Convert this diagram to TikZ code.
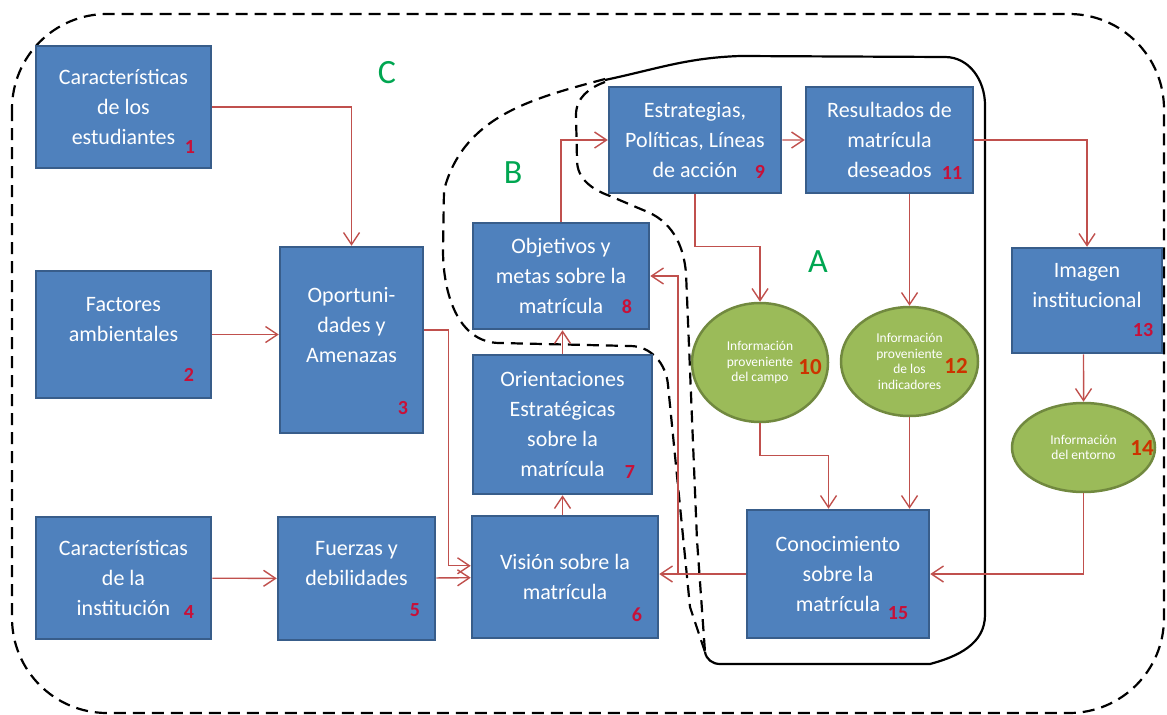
\documentclass[tikz,border=0pt]{standalone}
\usepackage{fontspec}
\setmainfont{Carlito}
\usetikzlibrary{arrows.meta,shapes.geometric}
\definecolor{boxblue}{RGB}{79,129,189}
\definecolor{boxedge}{RGB}{56,93,138}
\definecolor{ovalgreen}{RGB}{155,187,89}
\definecolor{ovaledge}{RGB}{113,137,63}
\definecolor{arrowred}{RGB}{192,80,77}
\definecolor{numred}{RGB}{200,16,56}
\definecolor{numorange}{RGB}{204,51,0}
\definecolor{zonegreen}{RGB}{0,166,81}
\tikzset{
  box/.style={draw=boxedge, line width=2.5pt, fill=boxblue, text=white, align=center, font=\fontsize{22}{30}\selectfont},
  oval/.style={ellipse, draw=ovaledge, line width=2.5pt, fill=ovalgreen, text=white, align=center, font=\fontsize{13.5}{15.5}\selectfont},
  num/.style={text=numred, font=\fontsize{20}{20}\selectfont\bfseries},
  onum/.style={text=numorange, font=\fontsize{23}{23}\selectfont\bfseries},
  zone/.style={text=zonegreen, font=\fontsize{34}{34}\selectfont},
  arr/.style={draw=arrowred, line width=1.4pt, -{Straight Barb[length=12pt,width=16pt]}},
  fence/.style={line width=2.2pt, dash pattern=on 12pt off 7pt}
}
\begin{document}
\begin{tikzpicture}[scale=0.35146]
\tikzstyle{every node}+=[inner sep=0pt]
\useasboundingbox (0,0) rectangle (116.7,-71.5);
\draw [fence, rounded corners=95pt] (1.2,-1.4) rectangle (116.4,-71.3);
\draw [fence] (60.5,-7.9) to[out=195,in=75] (44.4,-19) -- (44.3,-25) to[out=-90,in=180] (50,-34.3) -- (63,-34.6) to[out=0,in=95] (66.8,-38.5) -- (69,-60.7) -- (70.5,-65.2);
\draw [fence] (60.5,-8.2) to[out=200,in=90] (57.6,-11.5) -- (57.7,-16) to[out=-90,in=160] (61,-19.6) -- (64.3,-21) to[out=-20,in=95] (68.6,-27.3) -- (69.7,-54) -- (70.5,-65.2);
\draw [line width=2.2pt] (60.5,-8) to[out=12,in=182] (74,-5.6) -- (94.5,-5.7) to[out=0,in=90] (98.5,-10.5) -- (98.5,-61.5) to[out=-90,in=15] (93,-66.4) -- (72,-66.4) to[out=180,in=-80] (70.5,-65.2);
\node [box, minimum width=175pt, minimum height=122pt] (n1) at (12.35,-10.7) {Características\\de los\\estudiantes};
\node [box, minimum width=175pt, minimum height=127pt] (n2) at (12.35,-33.45) {Factores\\ambientales\\~};
\node [box, minimum width=143pt, minimum height=186pt] (n3) at (35.15,-34) {Oportuni-\\dades y\\Amenazas\\~};
\node [box, minimum width=175pt, minimum height=122pt] (n4) at (12.35,-57.8) {Características\\de la\\institución};
\node [box, minimum width=157pt, minimum height=123pt] (n5) at (35.65,-57.85) {Fuerzas y\\debilidades\\~};
\node [box, minimum width=186pt, minimum height=122pt] (n6) at (56.5,-57.7) {Visión sobre la\\matrícula};
\node [box, minimum width=179pt, minimum height=139pt] (n7) at (56.25,-42.45) {Orientaciones\\Estratégicas\\sobre la\\matrícula};
\node [box, minimum width=176pt, minimum height=106pt] (n8) at (56.1,-27.6) {Objetivos y\\metas sobre la\\matrícula};
\node [box, minimum width=172pt, minimum height=106pt] (n9) at (69.5,-14) {Estrategias,\\Políticas, Líneas\\de acción};
\node [oval, minimum width=136pt, minimum height=119pt] (n10) at (76,-36.25) {Información\\proveniente\\del campo};
\node [box, minimum width=167pt, minimum height=106pt] (n11) at (88.95,-14) {Resultados de\\matrícula\\deseados};
\node [oval, minimum width=137pt, minimum height=109pt] (n12) at (90.95,-36.15) {Información\\proveniente\\de los\\indicadores};
\node [box, minimum width=150pt, minimum height=105pt] (n13) at (108.7,-30.05) {Imagen\\institucional\\~};
\node [oval, minimum width=143pt, minimum height=89pt] (n14) at (108.35,-44.75) {Información\\del entorno};
\node [box, minimum width=182pt, minimum height=128pt] (n15) at (83.8,-57.4) {Conocimiento\\sobre la\\matrícula};
\node [num] (k1) at (19,-14.7) {1};
\node [num] (k2) at (18.9,-37.5) {2};
\node [num] (k3) at (40.3,-40.8) {3};
\node [num] (k4) at (18.9,-61.2) {4};
\node [num] (k5) at (41.5,-61) {5};
\node [num] (k6) at (63.7,-61.5) {6};
\node [num] (k7) at (63,-47.2) {7};
\node [num] (k8) at (62.7,-30.7) {8};
\node [num] (k9) at (76,-17.2) {9};
\node [onum] (k10) at (81,-36.7) {10};
\node [num] (k11) at (95.2,-17.3) {11};
\node [onum] (k12) at (95.6,-36.6) {12};
\node [num] (k13) at (114.3,-33) {13};
\node [onum] (k14) at (114.2,-44.8) {14};
\node [num] (k15) at (89.8,-61.3) {15};
\node [zone] (zc) at (38.7,-7.3) {C};
\node [zone] (zb) at (51.3,-17.3) {B};
\node [zone] (za) at (81.8,-26.2) {A};
\coordinate (jn) at (67.8,-57.4);
\draw [arr] (n1) -| (n3);
\draw [arr] (n2.east) -- (n2.east -| n3.west);
\draw [arr] ([yshift=29pt]n3.east) -- ++(2.4,0) |- ([yshift=32pt]n6.west);
\draw [arr] (n4) -- (n5);
\draw [arr] (n5) -- (n6);
\draw [arr] (n7.south |- n6.north) -- (n7.south);
\draw [arr] (n7.north) -- (n7.north |- n8.south);
\draw [arr] (n8.north) |- (n9.west);
\draw [arr] (n9) -- (n11);
\draw [arr] (n9.south) -- ++(0,-5.2) -| (n10.north);
\draw [arr] (n12.north |- n11.south) -- (n12.north);
\draw [arr] (n11) -| (n13);
\draw [arr] (n13.south -| n14) -- (n14);
\draw [arr] (n10.south) -- ++(0,-3.2) -| ([xshift=-27pt]n15.north);
\draw [arr] (n12.south) -- (n12.south |- n15.north);
\draw [arr] (n15.west) -- (n15.west -| n6.east);
\draw [arr] (jn) |- (n8.east);
\draw [arr] (n14) |- (n15);
\end{tikzpicture}
\end{document}
